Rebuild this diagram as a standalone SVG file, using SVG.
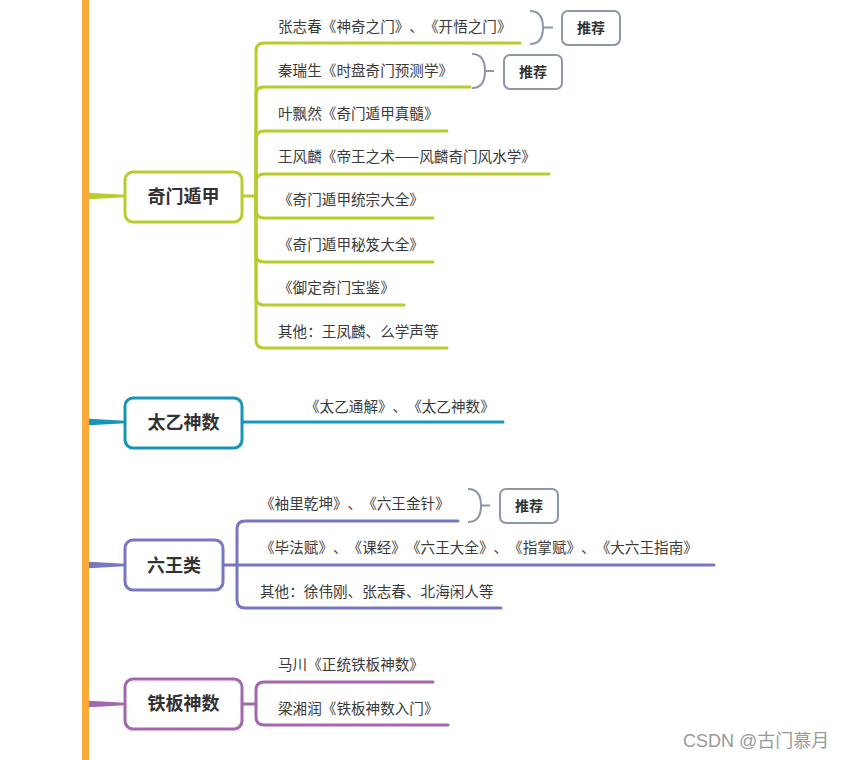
<svg xmlns="http://www.w3.org/2000/svg" width="845" height="760" viewBox="0 0 845 760">
<style>
text{font-kerning:none;text-spacing-trim:space-all;text-autospace:no-autospace}
.t{font-family:"Noto Sans CJK SC","Noto Sans",sans-serif;font-size:14.6px;fill:#3a3a3a}
.n{font-family:"Noto Sans CJK SC","Noto Sans",sans-serif;font-size:18px;font-weight:bold;fill:#333;text-anchor:middle}
.r{font-family:"Noto Sans CJK SC","Noto Sans",sans-serif;font-size:14px;font-weight:bold;fill:#333;text-anchor:middle}
.box{fill:#fff;stroke-width:3}
.ln{fill:none;stroke-width:3;stroke-linecap:round}
.rec{fill:#fff;stroke:#8c97a9;stroke-width:2}
.br{fill:none;stroke:#8c97a9;stroke-width:2}
</style>
<rect width="845" height="760" fill="#fff"/>
<rect x="82" y="0" width="7" height="760" fill="#fbaa3a"/>
<g id="connectors">
  <polygon points="89,192.8 89,199.2 125,197.2 125,194.8" fill="#b8cc2e"/>
  <polygon points="89,418.8 89,425.2 125,423.2 125,420.8" fill="#1696b5"/>
  <polygon points="89,561.8 89,568.2 125,566.2 125,563.8" fill="#7877c3"/>
  <polygon points="89,700.8 89,707.2 125,705.2 125,702.8" fill="#a366af"/>
  <g stroke="#b8cc2e" class="ln">
    <path d="M242,196 H256"/>
    <path d="M256,196 V51 Q256,43 264,43 H520"/>
    <path d="M256,196 V95 Q256,87 264,87 H470"/>
    <path d="M256,196 V139 Q256,131 264,131 H447"/>
    <path d="M256,196 V182 Q256,174 264,174 H549"/>
    <path d="M256,196 V210 Q256,218 264,218 H433"/>
    <path d="M256,196 V254 Q256,262 264,262 H433"/>
    <path d="M256,196 V297 Q256,305 264,305 H404"/>
    <path d="M256,196 V340 Q256,348 264,348 H447"/>
  </g>
  <path class="ln" stroke="#1696b5" d="M242,422 H503"/>
  <g stroke="#7877c3" class="ln">
    <path d="M224,565 H714"/>
    <path d="M237,565 V529 Q237,521 245,521 H458"/>
    <path d="M237,565 V600 Q237,608 245,608 H501"/>
  </g>
  <g stroke="#a366af" class="ln">
    <path d="M242,704 H256"/>
    <path d="M256,704 V690 Q256,682 264,682 H433"/>
    <path d="M256,704 V717 Q256,725 264,725 H448"/>
  </g>
  <path class="br" d="M530,11 C540,11 543,19 543,27.5 C543,36 540,44 530,44 M543,27.5 H553"/>
  <path class="br" d="M472,54 C482,54 485,62 485,71 C485,80 482,88 472,88 M485,71 H494"/>
  <path class="br" d="M468,489 C478,489 481,497 481,505.5 C481,514 478,522 468,522 M481,505.5 H490"/>
</g>
<g id="qimen">
  <rect class="box" stroke="#b8cc2e" x="125" y="172" width="117" height="50" rx="8"/>
  <text class="n" x="183.5" y="203">奇门遁甲</text>
</g>
<g id="qimen-children">
  <text class="t" x="278" y="32">张志春《神奇之门》、《开悟之门》</text>
  <text class="t" x="278" y="76">秦瑞生《时盘奇门预测学》</text>
  <text class="t" x="278" y="119">叶飘然《奇门遁甲真髓》</text>
  <text class="t" x="278" y="162">王风麟《帝王之术——风麟奇门风水学》</text>
  <text class="t" x="278" y="205">《奇门遁甲统宗大全》</text>
  <text class="t" x="278" y="250">《奇门遁甲秘笈大全》</text>
  <text class="t" x="278" y="293">《御定奇门宝鉴》</text>
  <text class="t" x="278" y="337">其他：王凤麟、么学声等</text>
</g>
<g id="rec1">
  <rect class="rec" x="562" y="11" width="58" height="34" rx="6"/>
  <text class="r" x="591" y="33">推荐</text>
</g>
<g id="rec2">
  <rect class="rec" x="504" y="55" width="58" height="34" rx="6"/>
  <text class="r" x="533" y="77">推荐</text>
</g>
<g id="taiyi">
  <rect class="box" stroke="#1696b5" x="125" y="398" width="117" height="50" rx="8"/>
  <text class="n" x="183.5" y="429">太乙神数</text>
  <text class="t" x="305" y="412">《太乙通解》、《太乙神数》</text>
</g>
<g id="liuren">
  <rect class="box" stroke="#7877c3" x="125" y="540" width="98" height="50" rx="8"/>
  <text class="n" x="174" y="572">六王类</text>
</g>
<g id="liuren-children">
  <text class="t" x="260" y="509">《袖里乾坤》、《六王金针》</text>
  <text class="t" x="260" y="553">《毕法赋》、《课经》《六王大全》、《指掌赋》、《大六王指南》</text>
  <text class="t" x="260" y="597">其他：徐伟刚、张志春、北海闲人等</text>
</g>
<g id="rec3">
  <rect class="rec" x="500" y="489" width="58" height="34" rx="6"/>
  <text class="r" x="529" y="511">推荐</text>
</g>
<g id="tieban">
  <rect class="box" stroke="#a366af" x="125" y="679" width="117" height="50" rx="8"/>
  <text class="n" x="183.5" y="710">铁板神数</text>
</g>
<g id="tieban-children">
  <text class="t" x="278" y="670">马川《正统铁板神数》</text>
  <text class="t" x="278" y="714">梁湘润《铁板神数入门》</text>
</g>
<text x="683" y="747" font-family="'Liberation Sans','Noto Sans CJK SC',sans-serif" font-size="18" fill="#9a9a9a">CSDN @古门慕月</text>
</svg>
